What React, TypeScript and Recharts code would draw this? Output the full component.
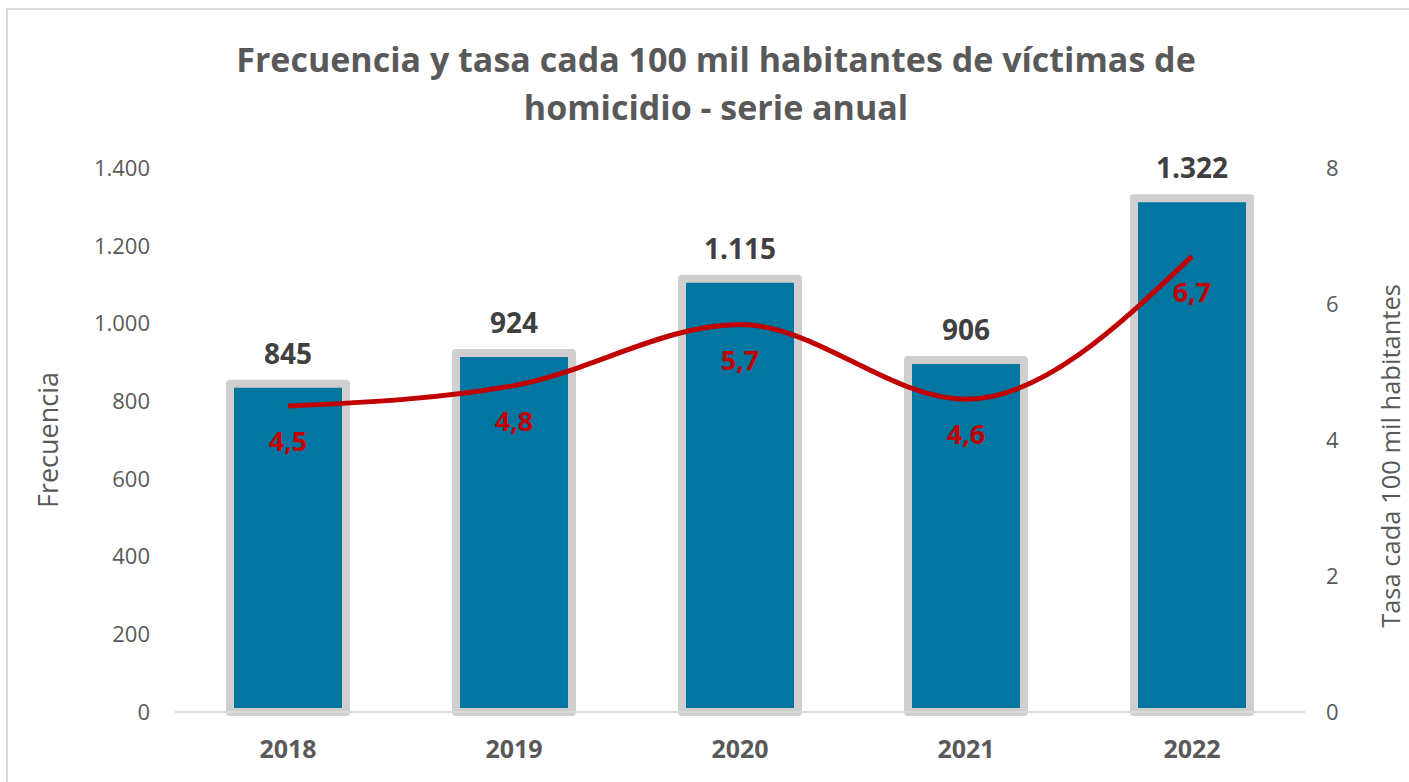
import { ComposedChart, Bar, Line, XAxis, YAxis, LabelList, Label } from "recharts";

const years = ["2018", "2019", "2020", "2021", "2022"];
const frecuencia = [845, 924, 1115, 906, 1322];
const tasa = [4.5, 4.8, 5.7, 4.6, 6.7];
const leftTicks = [0, 200, 400, 600, 800, 1000, 1200, 1400];
const rightTicks = [0, 2, 4, 6, 8];

const data = years.map((y, i) => ({ year: y, frecuencia: frecuencia[i], tasa: tasa[i] }));

const FONT = "'Open Sans', sans-serif";
const GRAY = "#595959";

const fmtMiles = (v: number) => v.toLocaleString("de-DE");
const fmtDec = (v: number) => v.toFixed(1).replace(".", ",");

export default function App() {
  return (
    <div style={{ position: "absolute", left: 0, top: 0, width: 1409, height: 782, overflow: "hidden", background: "#fff", fontFamily: FONT }}>
      {/* chart frame */}
      <div style={{
        position: "absolute", left: 6, top: 8, width: 1500, height: 900,
        borderTop: "2px solid #d9d9d9", borderLeft: "2px solid #d9d9d9",
      }} />

      <div style={{
        position: "absolute", left: 0, top: 35, width: 1432, textAlign: "center",
        fontSize: 34, fontWeight: 700, color: GRAY, lineHeight: "48px",
      }}>
        Frecuencia y tasa cada 100 mil habitantes de víctimas de<br />homicidio - serie anual
      </div>

      <div style={{ position: "absolute", left: 0, top: 0 }}>
        <ComposedChart
          width={1409}
          height={782}
          data={data}
          margin={{ top: 168, right: 0, bottom: 10, left: 0 }}
        >
          <XAxis
            dataKey="year"
            tickLine={false}
            axisLine={{ stroke: "#d9d9d9", strokeWidth: 2 }}
            height={60}
            tickMargin={22}
            tick={{ fontSize: 25, fontWeight: 700, fill: GRAY, fontFamily: FONT }}
          />
          <YAxis
            yAxisId="left"
            width={175}
            domain={[0, 1400]}
            ticks={leftTicks}
            tickFormatter={fmtMiles}
            axisLine={false}
            tickLine={false}
            tickMargin={19}
            tick={{ fontSize: 22, fill: GRAY, fontFamily: FONT }}
          >
            <Label
              content={({ viewBox }: any) => {
                const cy = viewBox.y + viewBox.height / 2;
                return (
                  <text x={47} y={cy} transform={`rotate(-90 47 ${cy})`} textAnchor="middle" dominantBaseline="central"
                    fontSize={27} fill={GRAY} fontFamily={FONT}>
                    Frecuencia
                  </text>
                );
              }}
            />
          </YAxis>
          <YAxis
            yAxisId="right"
            orientation="right"
            width={104}
            domain={[0, 8]}
            ticks={rightTicks}
            axisLine={false}
            tickLine={false}
            tickMargin={15}
            tick={{ fontSize: 22, fill: GRAY, fontFamily: FONT }}
          >
            <Label
              content={({ viewBox }: any) => {
                const cy = viewBox.y + viewBox.height / 2 + 16;
                return (
                  <text x={1390} y={cy} transform={`rotate(-90 1390 ${cy})`} textAnchor="middle" dominantBaseline="central"
                    fontSize={25.5} fill={GRAY} fontFamily={FONT}>
                    Tasa cada 100 mil habitantes
                  </text>
                );
              }}
            />
          </YAxis>
          <Bar
            yAxisId="left"
            dataKey="frecuencia"
            barSize={116}
            fill="#0076A0"
            stroke="#D0CECE"
            strokeWidth={8}
            strokeLinejoin="round"
            isAnimationActive={false}
          >
            <LabelList
              dataKey="frecuencia"
              position="top"
              offset={20}
              formatter={(v: any) => fmtMiles(Number(v))}
              style={{ fontSize: 28, fontWeight: 700, fill: "#404040", fontFamily: FONT }}
            />
          </Bar>
          <Line
            yAxisId="right"
            dataKey="tasa"
            type="monotone"
            stroke="#C00000"
            strokeWidth={5}
            dot={false}
            activeDot={false}
            isAnimationActive={false}
          >
            <LabelList
              dataKey="tasa"
              position="bottom"
              offset={26}
              formatter={(v: any) => fmtDec(Number(v))}
              style={{ fontSize: 27, fontWeight: 700, fill: "#C00000", fontFamily: FONT }}
            />
          </Line>
        </ComposedChart>
      </div>
    </div>
  );
}
